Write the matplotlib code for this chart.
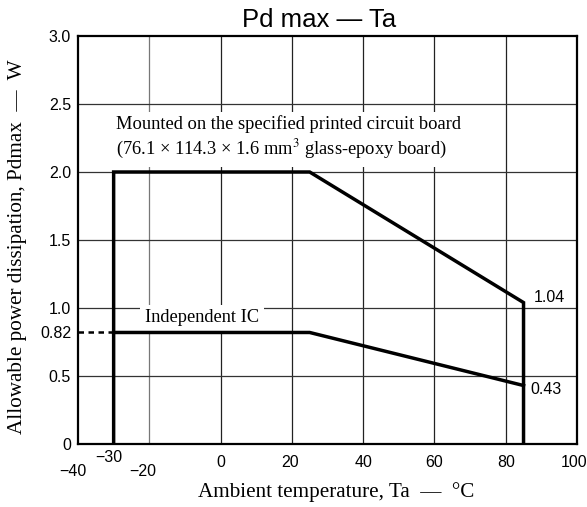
import matplotlib
matplotlib.use("Agg")
import matplotlib.pyplot as plt

# Data
board_x = [-30, -30, 25, 85, 85]
board_y = [0, 2.0, 2.0, 1.04, 0]
ic_x = [-30, 25, 85]
ic_y = [0.82, 0.82, 0.43]
ic_dash_x = [-40, -30]
ic_dash_y = [0.82, 0.82]

xgrid = [0, 20, 40, 60, 80]
ygrid = [0.5, 1.0, 1.5, 2.0, 2.5]
yticks = [0, 0.5, 0.82, 1.0, 1.5, 2.0, 2.5, 3.0]
ytick_labels = ["0", "0.5", "0.82", "1.0", "1.5", "2.0", "2.5", "3.0"]
xtick_main = [0, 20, 40, 60, 80, 100]
xtick_main_labels = ["0", "20", "40", "60", "80", "100"]
xtick_neg = [-40, -30, -20]
xtick_neg_labels = ["\u221240", "\u221230", "\u221220"]

SERIF = "Liberation Serif"
SANS = "Liberation Sans"

fig = plt.figure(figsize=(5.87, 5.07), dpi=100)
ax = fig.add_axes([78/587, 1-444/507, (577-78)/587, (444-36)/507])
ax.set_xlim(-40, 100)
ax.set_ylim(0, 3.0)

# grid
ax.axvline(-20, color="#777777", lw=0.9, zorder=1)
for gx in xgrid:
    ax.axvline(gx, color="#222222", lw=0.9, zorder=1)
for gy in ygrid:
    ax.axhline(gy, color="#333333", lw=0.9, zorder=1)

for s in ax.spines.values():
    s.set_linewidth(1.6)
    s.set_color("black")

ax.set_xticks([])
ax.set_yticks(yticks)
ax.set_yticklabels(ytick_labels, fontfamily=SANS, fontsize=11.5)
ax.tick_params(axis="y", length=0, pad=5)

# curves
ax.plot(board_x, board_y, color="black", lw=2.5, solid_joinstyle="miter", zorder=4)
ax.plot(ic_x, ic_y, color="black", lw=2.5, solid_joinstyle="miter", zorder=4)
ax.plot(ic_dash_x, ic_dash_y, color="black", lw=1.8, ls=(0, (2.2, 1.8)), zorder=4)

# texts
ax.text(-21.2, 0.895, "Independent IC", fontfamily=SERIF, fontsize=13.2,
        va="baseline", ha="left", zorder=3,
        bbox=dict(boxstyle="square,pad=0.25", fc="white", ec="none"))
ax.text(-29.3, 2.25, "Mounted on the specified printed circuit board\n(76.1 \u00d7 114.3 \u00d7 1.6 mm$^3$ glass-epoxy board)",
        fontfamily=SERIF, fontsize=13.3, va="center", ha="left", zorder=3, linespacing=1.3,
        math_fontfamily="stix",
        bbox=dict(boxstyle="square,pad=0.3", fc="white", ec="none"))

ax.annotate("1.04", xy=(85, 1.04), xytext=(7, 4), textcoords="offset points",
            fontfamily=SANS, fontsize=11.5, va="center", ha="left")
ax.annotate("0.43", xy=(85, 0.43), xytext=(5, -3), textcoords="offset points",
            fontfamily=SANS, fontsize=11.5, va="center", ha="left")

# x tick labels
main_dx = [0, -1, 0, 0, 0, -2]
for xv, lab, dx in zip(xtick_main, xtick_main_labels, main_dx):
    ax.annotate(lab, xy=(xv, 0), xycoords=("data", "axes fraction"),
                xytext=(dx, -13.5), textcoords="offset points",
                fontfamily=SANS, fontsize=11.5, ha="center", va="center")
neg_offsets = [(-4, -19.5), (-3.5, -10), (-5, -19.5)]
for xv, lab, off in zip(xtick_neg, xtick_neg_labels, neg_offsets):
    ax.annotate(lab, xy=(xv, 0), xycoords=("data", "axes fraction"),
                xytext=off, textcoords="offset points",
                fontfamily=SANS, fontsize=11.5, ha="center", va="center")

# axis labels
fig.text(336/587, 1-492/507, "Ambient temperature, Ta  \u2014  \u00b0C",
         fontfamily=SERIF, fontsize=15.2, ha="center", va="center")
fig.text(18/587, 1-247/507, "Allowable power dissipation, Pdmax  \u2014  W",
         fontfamily=SERIF, fontsize=15.2, ha="center", va="center", rotation=90)

# title
fig.text(319/587, 1-27/507, "Pd max \u2014 Ta", fontfamily=SANS, fontsize=18.5,
         ha="center", va="baseline")

fig.savefig("out.png", dpi=100)
